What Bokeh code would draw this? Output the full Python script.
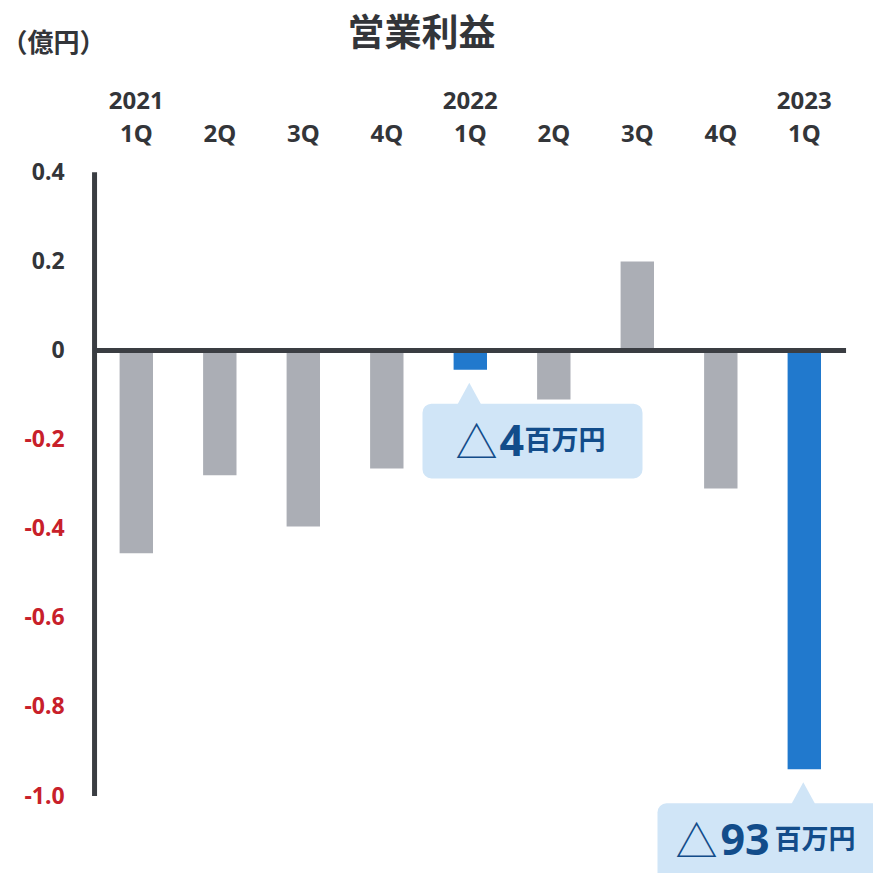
from bokeh.plotting import figure
from bokeh.models import Range1d
from bokeh.core.properties import value
from bokeh.embed import file_html
from bokeh.resources import INLINE

# ---- data ----
quarters = ["1Q", "2Q", "3Q", "4Q", "1Q", "2Q", "3Q", "4Q", "1Q"]
years = ["2021", "", "", "", "2022", "", "", "", "2023"]
profit = [-0.455, -0.28, -0.395, -0.265, -0.043, -0.11, 0.20, -0.31, -0.94]
highlight = [False, False, False, False, True, False, False, False, True]
y_ticks = [0.4, 0.2, 0.0, -0.2, -0.4, -0.6, -0.8, -1.0]
y_tick_labels = ["0.4", "0.2", "0", "-0.2", "-0.4", "-0.6", "-0.8", "-1.0"]
callout_idx = [4, 8]
callout_nums = ["4", "93"]
callout_unit = "百万円"
callout_mark = "△"
title = "営業利益"
unit = "（億円）"

# ---- layout helpers (pixels -> data) ----
W, H = 873, 873
X0, DX = 135.8, 83.5      # x of first category, px per category
Y0, DY = 350.0, 445.5     # y of zero, px per unit


def xd(px):
    return (px - X0) / DX


def yd(py):
    return (Y0 - py) / DY


GRAY = "#ABAEB5"
BLUE = "#2179CD"
AXIS = "#3A3D42"
RED = "#C8202A"
DARK = "#333539"
CALL_BG = "#D0E5F7"
CALL_TX = "#124C8A"

p = figure(width=W, height=H, output_backend="svg", toolbar_location=None,
           x_range=Range1d(xd(0), xd(W)), y_range=Range1d(yd(H), yd(0)),
           min_border=0, outline_line_color=None,
           x_axis_type=None, y_axis_type=None)
p.grid.visible = False
p.background_fill_color = "white"
p.border_fill_color = "white"

n = len(profit)
idx = list(range(n))
colors = [BLUE if h else GRAY for h in highlight]

# bars
p.vbar(x=idx, top=profit, bottom=0, width=0.4, fill_color=colors, line_color=None)

# axis lines
p.segment(x0=[-0.5], y0=[y_ticks[0]], x1=[-0.5], y1=[y_ticks[-1]],
          line_color=AXIS, line_width=5)
p.segment(x0=[-0.5], y0=[0], x1=[n - 0.5], y1=[0], line_color=AXIS, line_width=5)

# y tick labels
tick_colors = [RED if t < 0 else DARK for t in y_ticks]
p.text(x=[-0.5] * len(y_ticks), y=y_ticks, text=y_tick_labels, x_offset=-30, y_offset=-1,
       text_align="right", text_baseline="middle", text_color=tick_colors,
       text_font=value("Noto Sans"), text_font_style="bold", text_font_size="23px")

# category labels (top)
p.text(x=idx, y=[yd(100)] * n, text=years, text_align="center", text_baseline="middle",
       text_color=DARK, text_font=value("Noto Sans"), text_font_style="bold",
       text_font_size="24px")
p.text(x=idx, y=[yd(131.5)] * n, text=quarters, text_align="center", text_baseline="middle",
       text_color=DARK, text_font=value("Noto Sans"), text_font_style="bold",
       text_font_size="24px")

# title and unit
p.text(x=[xd(421)], y=[yd(29)], text=[title], text_align="center", text_baseline="middle",
       text_color=DARK, text_font=value("Noto Sans CJK JP"), text_font_style="bold",
       text_font_size="37px")
p.text(x=[xd(1)], y=[yd(40)], text=[unit], text_align="left", text_baseline="middle",
       text_color=DARK, text_font=value("Noto Sans CJK JP"), text_font_style="bold",
       text_font_size="26px")

# callouts
box_l = [422, 657]
box_r = [642, 900]
box_b = [478, 900]
mark_x = [455, 675]
num_x = [499, 720]
unit_x = [524, 774]
base_y = [440, 839]
lefts, rights, tops, bottoms, pxs, pys = [], [], [], [], [], []
for k, i in enumerate(callout_idx):
    bottom_px = Y0 - DY * profit[i]
    tip = bottom_px + 13
    base = tip + 21
    cx = X0 + DX * i - 1
    lefts.append(xd(box_l[k]))
    rights.append(xd(box_r[k]))
    tops.append(yd(base))
    bottoms.append(yd(box_b[k]))
    pxs.append([xd(cx - 12), xd(cx), xd(cx + 12)])
    pys.append([yd(base + 1), yd(tip), yd(base + 1)])

p.quad(left=lefts, right=rights, top=tops, bottom=bottoms, fill_color=CALL_BG,
       line_color=None, border_radius=9)
p.patches(xs=pxs, ys=pys, fill_color=CALL_BG, line_color=None)

p.text(x=[xd(v) for v in mark_x], y=[yd(v - 1) for v in base_y], text=[callout_mark] * 2,
       text_align="left", text_baseline="alphabetic", text_color=CALL_TX,
       text_font=value("Noto Sans CJK JP"), text_font_size="42px")
p.text(x=[xd(v) for v in num_x], y=[yd(v) for v in base_y], text=callout_nums,
       text_align="left", text_baseline="alphabetic", text_color=CALL_TX,
       text_font=value("Noto Sans"), text_font_style="bold", text_font_size="43px")
p.text(x=[xd(v) for v in unit_x], y=[yd(v - 2) for v in base_y], text=[callout_unit] * 2,
       text_align="left", text_baseline="alphabetic", text_color=CALL_TX,
       text_font=value("Noto Sans CJK JP"), text_font_style="bold", text_font_size="27px")

open("out.html", "w").write(file_html(p, INLINE))
